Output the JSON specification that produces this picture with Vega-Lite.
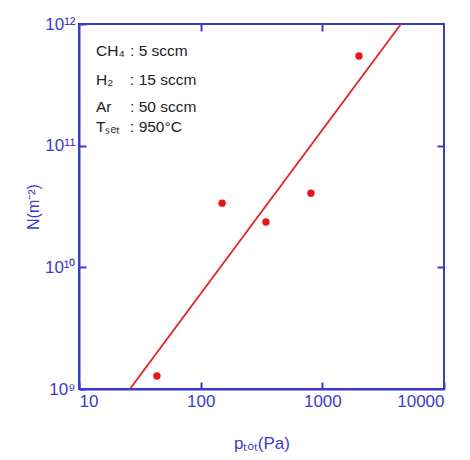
{
  "$schema": "https://vega.github.io/schema/vega-lite/v6.json",
  "width": 365,
  "height": 365,
  "autosize": "none",
  "padding": {"left": 79, "top": 24, "right": 26, "bottom": 71},
  "background": "white",
  "config": {
    "view": {"stroke": "#3b3bc6", "strokeWidth": 2},
    "font": "Liberation Sans",
    "axis": {
      "domainColor": "#3b3bc6", "domainWidth": 2, "tickColor": "#3b3bc6", "tickWidth": 2, "ticks": true,
      "labelColor": "#3b3bc6", "titleColor": "#3b3bc6", "labelFontSize": 17,
      "titleFontSize": 16, "titleFontWeight": "normal", "grid": false, "labelFont": "Liberation Sans", "titleFont": "Liberation Sans"
    }
  },
  "datasets": {
    "pts": [
      {"p": 43.7, "N": 1.28e9},
      {"p": 150, "N": 3.37e10},
      {"p": 344, "N": 2.36e10},
      {"p": 806, "N": 4.07e10},
      {"p": 2000, "N": 5.45e11}
    ],
    "fit": [
      {"p": 26.2, "N": 1e9},
      {"p": 4430, "N": 1e12}
    ],
    "notes": [
      {"p": 13.8, "N": 5.98e11, "name": "CH₄", "val": ": 5 sccm"},
      {"p": 13.8, "N": 3.46e11, "name": "H₂", "val": ": 15 sccm"},
      {"p": 13.8, "N": 2.07e11, "name": "Ar", "val": ": 50 sccm"},
      {"p": 13.8, "N": 1.42e11, "name": "Tₛₑₜ", "val": ": 950°C"}
    ]
  },
  "layer": [
    {
      "data": {"name": "fit"},
      "mark": {"type": "line", "color": "#e02424", "strokeWidth": 1.8, "clip": true},
      "encoding": {
        "x": {"field": "p", "type": "quantitative",
          "scale": {"type": "log", "domain": [10, 10000], "nice": false},
          "axis": {"orient": "bottom", "values": [10, 100, 1000, 10000], "format": "d", "title": "pₜₒₜ(Pa)", "tickSize": -7, "labelPadding": 11, "titlePadding": 26, "titleFontSize": 17}},
        "y": {"field": "N", "type": "quantitative",
          "scale": {"type": "log", "domain": [1e9, 1e12], "nice": false},
          "axis": {"orient": "left", "values": [1e9, 1e10, 1e11, 1e12], "title": "N(m⁻²)", "tickSize": -7, "labelPadding": 11, "titlePadding": 3,
            "labelExpr": "datum.value < 5e9 ? '10⁹' : datum.value < 5e10 ? '10¹⁰' : datum.value < 5e11 ? '10¹¹' : '10¹²'"}}
      }
    },
    {
      "data": {"name": "pts"},
      "mark": {"type": "point", "filled": true, "color": "#e8141a", "size": 55, "opacity": 1},
      "encoding": {
        "x": {"field": "p", "type": "quantitative",
          "axis": {"orient": "top", "values": [100, 1000], "labels": false, "title": null, "domain": false, "tickSize": -7}},
        "y": {"field": "N", "type": "quantitative",
          "axis": {"orient": "right", "values": [1e10, 1e11], "labels": false, "title": null, "domain": false, "tickSize": -7}}
      }
    },
    {
      "data": {"name": "notes"},
      "mark": {"type": "text", "align": "left", "baseline": "middle", "fontSize": 15.5, "color": "#222222", "font": "Liberation Sans"},
      "encoding": {
        "x": {"field": "p", "type": "quantitative", "axis": null},
        "y": {"field": "N", "type": "quantitative", "axis": null},
        "text": {"field": "name"}
      }
    },
    {
      "data": {"name": "notes"},
      "mark": {"type": "text", "align": "left", "baseline": "middle", "fontSize": 15.5, "color": "#222222", "font": "Liberation Sans", "dx": 34},
      "encoding": {
        "x": {"field": "p", "type": "quantitative", "axis": null},
        "y": {"field": "N", "type": "quantitative", "axis": null},
        "text": {"field": "val"}
      }
    }
  ],
  "resolve": {"scale": {"x": "shared", "y": "shared"}, "axis": {"x": "independent", "y": "independent"}}
}
